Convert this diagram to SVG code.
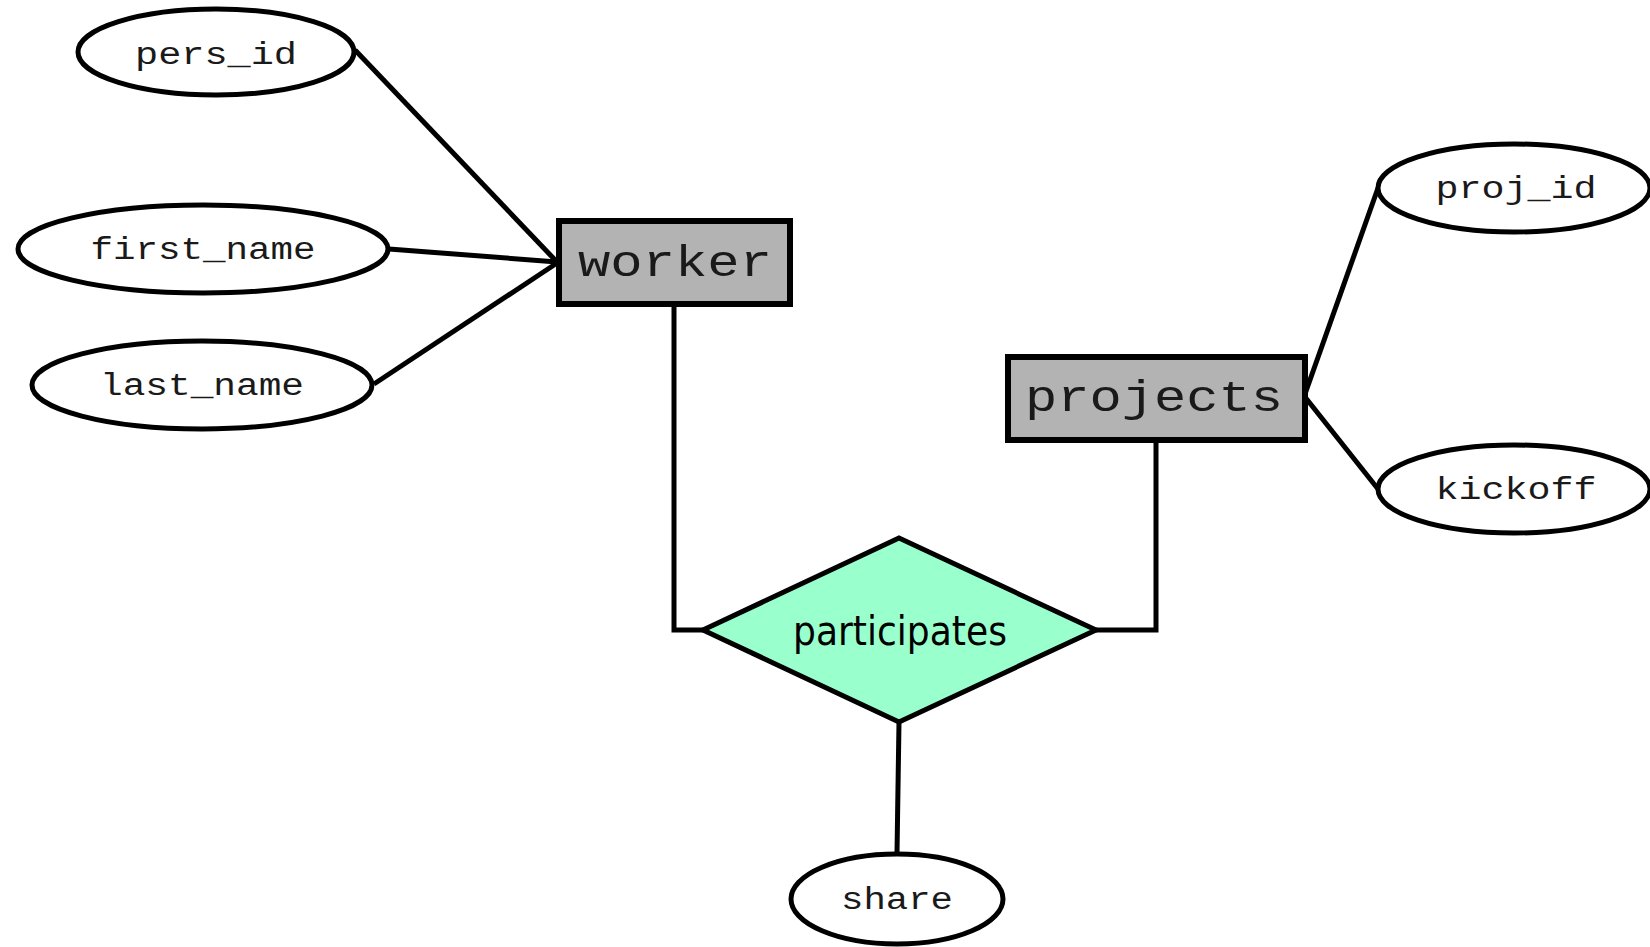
<svg xmlns="http://www.w3.org/2000/svg" width="1650" height="947" viewBox="0 0 1650 947">
  <style>
    .attr ellipse { fill: #ffffff; stroke: #000000; stroke-width: 5; }
    .attr text { font-family: "Liberation Mono", "Courier New", monospace; font-size: 31px; fill: #1a1a1a; text-anchor: middle; }
    .entity rect { fill: #b3b3b3; stroke: #000000; stroke-width: 6; }
    .entity text { font-family: "Liberation Mono", "Courier New", monospace; font-size: 44px; fill: #1a1a1a; text-anchor: middle; }
    .rel polygon { fill: #99ffcc; stroke: #000000; stroke-width: 5; stroke-linejoin: miter; }
    .rel text { font-family: "DejaVu Sans", "Liberation Sans", sans-serif; font-size: 40px; fill: #000000; text-anchor: middle; }
    .links path { fill: none; stroke: #000000; stroke-width: 5; }
  </style>

  <!-- connectors -->
  <g id="connectors" class="links">
    <path d="M355,50 L557,262"/>
    <path d="M389,249 L557,262"/>
    <path d="M374,384 L557,263"/>
    <path d="M674,305 L674,630 L703,630"/>
    <path d="M1156,441 L1156,630 L1096,630"/>
    <path d="M1305,394 L1378,188"/>
    <path d="M1305,397 L1378,489"/>
    <path d="M899,722 L897,853"/>
  </g>

  <!-- entities -->
  <g id="worker" class="entity">
    <rect x="559" y="221" width="231" height="83"/>
    <text x="675" y="276" textLength="194" lengthAdjust="spacingAndGlyphs">worker</text>
  </g>
  <g id="projects" class="entity">
    <rect x="1008" y="357" width="297" height="83"/>
    <text x="1154" y="411" textLength="258" lengthAdjust="spacingAndGlyphs">projects</text>
  </g>

  <!-- relationship -->
  <g id="participates" class="rel">
    <polygon points="899,538 1096,630 899,722 703,630"/>
    <text x="900" y="645" textLength="214" lengthAdjust="spacingAndGlyphs">participates</text>
  </g>

  <!-- attributes -->
  <g id="pers_id" class="attr">
    <ellipse cx="216" cy="52" rx="138" ry="43"/>
    <text x="216" y="64" textLength="162" lengthAdjust="spacingAndGlyphs">pers_id</text>
  </g>
  <g id="first_name" class="attr">
    <ellipse cx="203" cy="249" rx="185" ry="44"/>
    <text x="203" y="259" textLength="225" lengthAdjust="spacingAndGlyphs">first_name</text>
  </g>
  <g id="last_name" class="attr">
    <ellipse cx="202" cy="385" rx="170" ry="44"/>
    <text x="202" y="395" textLength="204" lengthAdjust="spacingAndGlyphs">last_name</text>
  </g>
  <g id="proj_id" class="attr">
    <ellipse cx="1514" cy="188" rx="136" ry="44"/>
    <text x="1516" y="198" textLength="161" lengthAdjust="spacingAndGlyphs">proj_id</text>
  </g>
  <g id="kickoff" class="attr">
    <ellipse cx="1514" cy="489" rx="136" ry="44"/>
    <text x="1516" y="499" textLength="161" lengthAdjust="spacingAndGlyphs">kickoff</text>
  </g>
  <g id="share" class="attr">
    <ellipse cx="897" cy="899" rx="106" ry="45"/>
    <text x="897" y="909" textLength="112" lengthAdjust="spacingAndGlyphs">share</text>
  </g>
</svg>
